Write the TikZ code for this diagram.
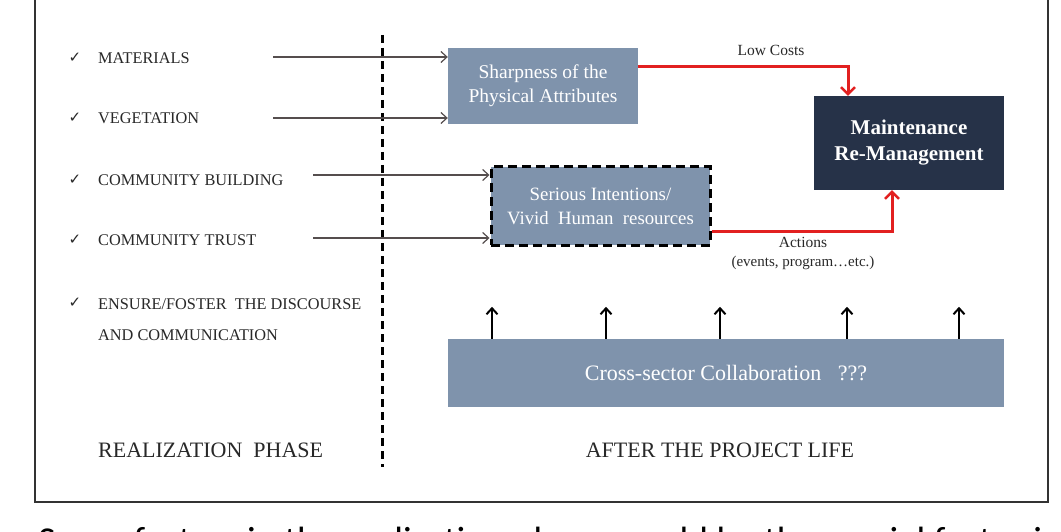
\documentclass[tikz,border=0pt]{standalone}
\usepackage{fontspec}
\setmainfont{Liberation Serif}
\newfontfamily\checkfont{DejaVu Sans}
\newfontfamily\capfont{Carlito}
\usetikzlibrary{arrows.meta}

\definecolor{boxblue}{RGB}{127,147,172}
\definecolor{boxdark}{RGB}{38,50,72}
\definecolor{linkred}{RGB}{226,32,32}
\definecolor{arrgray}{RGB}{85,78,78}
\definecolor{inktext}{RGB}{40,40,40}

\begin{document}
\begin{tikzpicture}[x=1pt,y=-1pt,
    item/.style={anchor=west,inner sep=0pt,text=inktext,font=\fontsize{16.3}{31}\selectfont},
    tick/.style={inner sep=0pt,text=inktext,font=\checkfont\fontsize{15}{15}\selectfont},
    phase/.style={inner sep=0pt,text=inktext,font=\fontsize{22}{26}\selectfont},
    bluebox/.style={fill=boxblue,text=white,align=center,inner sep=0pt,font=\fontsize{19.5}{24}\selectfont},
    darkbox/.style={fill=boxdark,text=white,align=center,inner sep=0pt,font=\bfseries\fontsize{21}{26}\selectfont},
    small/.style={inner sep=0pt,text=inktext,font=\fontsize{15.5}{18}\selectfont},
    feed/.style={draw=arrgray,line width=1.4pt,-{Straight Barb[length=6pt,width=11pt,line width=1.2pt]}},
    redlink/.style={draw=linkred,line width=3pt,-{Straight Barb[length=7pt,width=14pt,line width=2.4pt]}},
    uparr/.style={draw=black,line width=2.4pt,-{Straight Barb[length=6pt,width=11pt,line width=2pt]}}]
  \useasboundingbox (0,0) rectangle (1061,532);
  \clip (0,0) rectangle (1061,532);
  \fill[white] (0,0) rectangle (1061,532);
  \draw[draw=black!80,line width=2pt] (35,-5) rectangle (1048,502);

  % realization phase
  \node[tick] (t1) at (75,58) {✓}; \node[item] (mat) at (98,58) {MATERIALS};
  \node[tick] (t2) at (75,118) {✓}; \node[item] (veg) at (98,118) {VEGETATION};
  \node[tick] (t3) at (75,180) {✓}; \node[item] (cbu) at (98,180) {COMMUNITY BUILDING};
  \node[tick] (t4) at (75,240) {✓}; \node[item] (ctr) at (98,240) {COMMUNITY TRUST};
  \node[tick] (t5) at (75,303) {✓};
  \node[item,anchor=north west,align=left] (ens) at (98,299) {ENSURE/FOSTER\ \ THE DISCOURSE\\AND COMMUNICATION};
  \node[phase,anchor=west] (real) at (98,450) {REALIZATION\ \ PHASE};

  \draw[black,line width=3pt,dash pattern=on 8pt off 5pt] (382,35) -- (382,467);

  % after the project life
  \node[bluebox,minimum width=190pt,minimum height=76pt] (sharp) at (543,86) {Sharpness of the\\Physical Attributes};
  \node[bluebox,minimum width=219pt,minimum height=78pt,font=\fontsize{18.8}{24}\selectfont,draw=black,line width=3pt,dash pattern=on 9pt off 5pt] (serious) at (600.5,206) {Serious\ Intentions/\\Vivid\ \ Human\ \ resources};
  \node[darkbox,minimum width=190pt,minimum height=94pt] (maint) at (909,143) {Maintenance\\Re-Management};
  \node[bluebox,minimum width=556pt,minimum height=68pt,font=\fontsize{22}{26}\selectfont] (cross) at (726,373) {Cross-sector Collaboration\ \ \ ???};
  \node[phase] (after) at (720,450) {AFTER THE PROJECT LIFE};

  \coordinate (m0) at (273,57);
  \coordinate (v0) at (273,118);
  \coordinate (b0) at (313,175);
  \coordinate (r0) at (313,238);
  \draw[feed] (m0) -- (m0 -| sharp.west);
  \draw[feed] (v0) -- (v0 -| sharp.west);
  \draw[feed] (b0) -- (b0 -| serious.west);
  \draw[feed] (r0) -- (r0 -| serious.west);

  \coordinate (lc) at (848,67);
  \coordinate (ac) at (892,231);
  \draw[redlink] (sharp.east |- lc) -- (lc) -- (lc |- maint.north);
  \draw[redlink] (serious.east |- ac) -- (ac) -- (ac |- maint.south);
  \node[small] (cost) at (771,50) {Low Costs};
  \node[small] (act) at (803,242) {Actions};
  \node[small,font=\fontsize{15}{18}\selectfont] (ev) at (803,263) {(events,\ program\ldots etc.)};

  \foreach \x in {492,606,720,847,959}
    \draw[uparr] (cross.north -| \x,0) -- ++(0,-32);

  \node[anchor=base west,inner sep=0pt,font=\capfont\fontsize{38}{38}\selectfont] (cap) at (38,553) {Some factors in the realization phase, could be the crucial factor in};
\end{tikzpicture}
\end{document}
